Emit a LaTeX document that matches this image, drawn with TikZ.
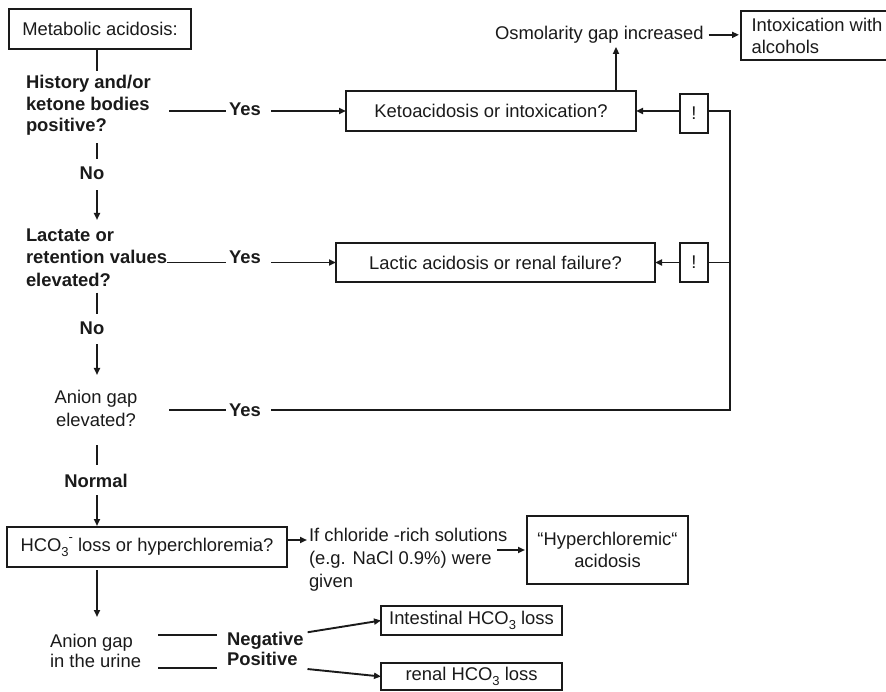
\documentclass[tikz,border=0pt]{standalone}
\usepackage{fontspec}
\setmainfont{Liberation Sans}
\usetikzlibrary{arrows.meta}
\definecolor{ink}{HTML}{1A1A1A}
\newcommand\mysub[1]{\raisebox{-0.28em}{\fontsize{13}{13}\selectfont #1}}
\newcommand\mysup[1]{\raisebox{0.5em}{\fontsize{13}{13}\selectfont #1}}
\begin{document}
\begin{tikzpicture}[x=1pt,y=-1pt,
  every node/.style={inner sep=0pt, outer sep=0pt, text=ink, font=\fontsize{18.4}{22}\selectfont},
  box/.style={draw=ink, line width=1.9pt, align=center},
  lbl/.style={font=\fontsize{18.4}{22}\selectfont\bfseries},
  link/.style={draw=ink, line width=1.9pt},
  arr/.style={link, -{Triangle[length=7pt,width=6pt]}}]
\useasboundingbox (0,0) rectangle (886,692);
\coordinate (colx) at (97,0);
\coordinate (rail) at (730,0);

% left column
\node[box, minimum width=182pt, minimum height=40pt] (metab) at (100,29) {Metabolic acidosis:};
\node[align=left, anchor=north west, font=\fontsize{18.4}{21.5}\selectfont\bfseries] (hist) at (26,75.4) {History and/or\\ketone bodies\\positive?};
\node[lbl, anchor=base] (no1) at (92,179.6) {No};
\node[align=left, anchor=north west, font=\fontsize{18.4}{22.5}\selectfont\bfseries] (lact) at (26,228.4) {Lactate or\\retention values\\elevated?};
\node[lbl, anchor=base] (no2) at (92,335) {No};
\node[align=center, anchor=north, font=\fontsize{18.4}{23}\selectfont] (agap) at (96,390.4) {Anion gap\\elevated?};
\node[lbl, anchor=base] (normal) at (96,487.6) {Normal};
\node[box, minimum width=280pt, minimum height=40pt] (hco3) at (147,547) {HCO\mysub{3}\mysup{-} loss or hyperchloremia?};
\node[align=left, anchor=north west, font=\fontsize{18.4}{20}\selectfont] (urine) at (50,634.4) {Anion gap\\in the urine};

% yes labels
\node[lbl, anchor=base] (yes1) at (245,115.6) {Yes};
\node[lbl, anchor=base] (yes2) at (245,263.6) {Yes};
\node[lbl, anchor=base] (yes3) at (245,416.6) {Yes};

% right boxes
\node[box, minimum width=290pt, minimum height=40pt] (keto) at (491,111) {Ketoacidosis or intoxication?};
\node[box, minimum width=319pt, minimum height=39pt] (lactic) at (495.5,262.5) {Lactic acidosis or renal failure?};
\node[box, minimum width=28pt, minimum height=39pt] (excl1) at (694,113.5) {!};
\node[box, minimum width=28pt, minimum height=39pt] (excl2) at (694,262.5) {!};
\node[anchor=base west] (osm) at (495,39.6) {Osmolarity gap increased};
\node[box, align=left, minimum width=152pt, minimum height=49pt] (intox) at (817,35.5) {Intoxication with\\alcohols};

% lower right
\node[align=left, anchor=north west, font=\fontsize{18.4}{23}\selectfont] (chl) at (309,528.4) {If chloride -rich solutions\\(e.g. NaCl 0.9\%) were\\given};
\node[box, minimum width=161pt, minimum height=68pt] (hyper) at (607.5,550) {“Hyperchloremic“\\acidosis};
\node[lbl, anchor=base west] (neg) at (227,645.6) {Negative};
\node[lbl, anchor=base west] (pos) at (227,665.6) {Positive};
\node[box, minimum width=181pt, minimum height=29pt] (intest) at (471.5,620.5) {Intestinal HCO\mysub{3} loss};
\node[box, minimum width=181pt, minimum height=27pt] (renal) at (471.5,676.5) {renal HCO\mysub{3} loss};

% main column
\draw[link, shorten >=4.4pt] (metab.south -| colx) -- (hist.north -| colx);
\draw[link, shorten <=7.5pt, shorten >=8.4pt] (hist.south -| colx) -- (no1.north -| colx);
\draw[arr, shorten <=10.4pt, shorten >=8.4pt] (no1.south -| colx) -- (lact.north -| colx);
\draw[link, shorten <=6.4pt, shorten >=8.8pt] (lact.south -| colx) -- (no2.north -| colx);
\draw[arr, shorten <=9pt, shorten >=15.4pt] (no2.south -| colx) -- (agap.north -| colx);
\draw[link, shorten <=18.4pt, shorten >=9.4pt] (agap.south -| colx) -- (normal.north -| colx);
\draw[arr, shorten <=7.4pt, shorten >=1pt] (normal.south -| colx) -- (hco3.north -| colx);
\draw[arr, shorten <=3pt, shorten >=17.4pt] (hco3.south -| colx) -- (urine.north -| colx);

% yes branches
\draw[link, shorten <=18.3pt, shorten >=3.6pt] (hist.east |- keto.west) -- (yes1.west |- keto.west);
\draw[arr, shorten <=10.6pt] (yes1.east |- keto.west) -- (keto.west);
\draw[link, shorten >=3.6pt] (lact.east |- lactic.west) -- (yes2.west |- lactic.west);
\draw[arr, shorten <=10.6pt] (yes2.east |- lactic.west) -- (lactic.west);
\draw[link, shorten <=31.6pt, shorten >=3.6pt] (agap.east |- yes3.west) -- (yes3.west);
\draw[link, shorten <=10.6pt] (yes3.east) -- (yes3.east -| rail) -- (rail |- keto.east) -- (excl1.east |- keto.east);
\draw[link] (rail |- excl2.east) -- (excl2.east);
\draw[arr] (excl1.west |- keto.east) -- (keto.east);
\draw[arr] (excl2.west) -- (lactic.east);

% osmolarity
\draw[arr, shorten >=3.5pt] ([xshift=125pt]keto.north) -- ([xshift=125pt]keto.north |- osm.south);
\draw[arr, shorten <=5pt, shorten >=2pt] (osm.east) -- (osm.east -| intox.west);

% bottom
\draw[arr, shorten >=2pt] ([yshift=7pt]hco3.east) -- ([yshift=7pt]hco3.east -| chl.west);
\draw[arr, shorten >=2pt] ([xshift=-30pt]hyper.west) -- (hyper.west);
\draw[link, shorten <=17pt, shorten >=10pt] ([yshift=6pt]neg.west -| urine.east) -- ([yshift=6pt]neg.west);
\draw[link, shorten <=17pt, shorten >=10pt] ([yshift=-9pt]pos.west -| urine.east) -- ([yshift=-9pt]pos.west);
\draw[arr, shorten <=4pt] ([yshift=8pt]neg.east) -- (intest.west);
\draw[arr, shorten <=10pt] ([yshift=-9pt]pos.east) -- (renal.west);
\end{tikzpicture}
\end{document}
